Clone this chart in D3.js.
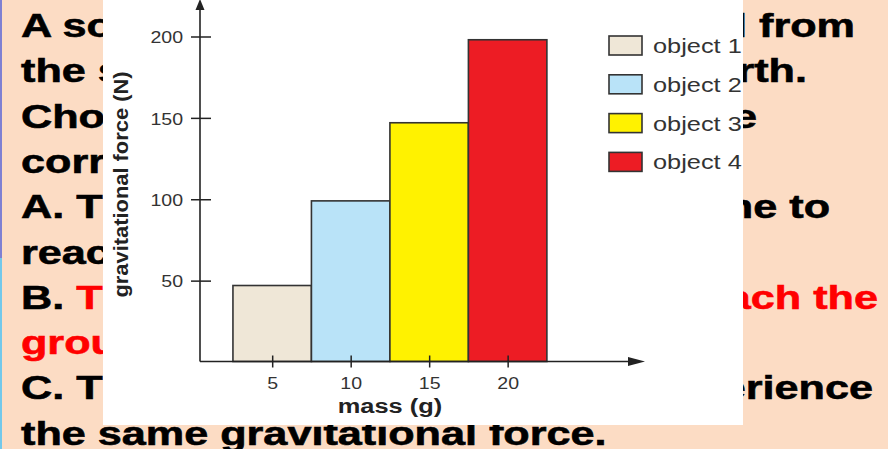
<!DOCTYPE html>
<html>
<head>
<meta charset="utf-8">
<script src="https://cdn.jsdelivr.net/npm/d3@7"></script>
<style>
  html, body { margin: 0; padding: 0; background: #fcdcc4; }
  svg { display: block; }
</style>
</head>
<body>
<svg id="slide" width="888" height="449"></svg>
<script>
// ---- chart data ----
const objects = ["object 1", "object 2", "object 3", "object 4"];
const masses = [5, 10, 15, 20];            // g
const forces = [47, 99, 147, 198];         // N
const colors = ["#efe7d7", "#b9e3f8", "#fff200", "#ed1c24"];
const yTicks = [50, 100, 150, 200];
const xTicks = [5, 10, 15, 20];
const xTitle = "mass (g)";
const yTitle = "gravitational force (N)";

// ---- slide question text (left column / right column pieces) ----
const leftLines = [
  [["A solid", "#000"]],
  [["the same", "#000"]],
  [["Choose", "#000"]],
  [["correct", "#000"]],
  [["A. They", "#000"]],
  [["reach", "#000"]],
  [["B. ", "#000"], ["The", "#ff0000"]],
  [["ground", "#ff0000"]],
  [["C. They", "#000"]],
  [["the same gravitational force.", "#000"]]
];
const rightLines = [
  ["fall from", "#000"],
  ["Earth.", "#000"],
  ["the", "#000"],
  ["", "#000"],
  ["time to", "#000"],
  ["", "#000"],
  ["reach the", "#ff0000"],
  ["", "#000"],
  ["experience", "#000"],
  ["", "#000"]
];
const rightEnds = [855, 807, 757, 0, 830, 0, 878, 0, 873, 0];

const svg = d3.select("#slide");
const W = 888, H = 449;

// slide background and edge strip
svg.append("rect").attr("width", W).attr("height", H).attr("fill", "#fcdcc4");
svg.append("rect").attr("x", 0).attr("y", 0).attr("width", 2).attr("height", 258).attr("fill", "#7f80d2");
svg.append("rect").attr("x", 0).attr("y", 258).attr("width", 2).attr("height", H - 258).attr("fill", "#73c8ea");

// question text
const textG = svg.append("g")
  .attr("font-family", "'Liberation Sans', Arial, sans-serif")
  .attr("font-weight", "bold")
  .attr("font-size", 34);
const base0 = 37, lineGap = 45.3, stretch = 1.27;

leftLines.forEach((parts, i) => {
  const t = textG.append("text")
    .attr("transform", `translate(21,${base0 + i * lineGap}) scale(${stretch},1)`);
  parts.forEach(([s, c]) => {
    t.append("tspan").attr("fill", c).attr("stroke", c).attr("stroke-width", 0.6).text(s);
  });
});
rightLines.forEach(([s, c], i) => {
  if (!s) return;
  textG.append("text")
    .attr("transform", `translate(${rightEnds[i]},${base0 + i * lineGap}) scale(${stretch},1)`)
    .attr("text-anchor", "end")
    .attr("fill", c).attr("stroke", c).attr("stroke-width", 0.6)
    .text(s);
});

// white chart panel
const panel = { x: 103, y: 0, w: 640, h: 425 };
svg.append("rect")
  .attr("x", panel.x).attr("y", panel.y).attr("width", panel.w).attr("height", panel.h)
  .attr("fill", "#ffffff");
svg.append("clipPath").attr("id", "panelClip")
  .append("rect").attr("x", panel.x).attr("y", panel.y).attr("width", panel.w).attr("height", panel.h);

const chart = svg.append("g").attr("clip-path", "url(#panelClip)")
  .attr("font-family", "'Liberation Sans', Arial, sans-serif");

// scales
const x = d3.scaleLinear().domain([0, 28.75]).range([193.7, 645]);
const y = d3.scaleLinear().domain([0, 200]).range([362, 36.5]);
const axisX = 200, axisY = 361.5;
const barW = x(5) - x(0);
const ink = "#222";

// bars
chart.selectAll("rect.bar")
  .data(masses.map((m, i) => ({ m, f: forces[i], c: colors[i] })))
  .join("rect")
  .attr("class", "bar")
  .attr("x", d => x(d.m) - barW / 2)
  .attr("width", barW)
  .attr("y", d => y(d.f))
  .attr("height", d => axisY - y(d.f))
  .attr("fill", d => d.c)
  .attr("stroke", "#333")
  .attr("stroke-width", 1.6);

// y axis
const yAxis = chart.append("g").attr("transform", `translate(${axisX},0)`)
  .call(d3.axisLeft(y).tickValues(yTicks).tickSizeOuter(0));
yAxis.select(".domain").remove();
yAxis.selectAll(".tick line").attr("x1", -9).attr("x2", 11).attr("stroke", ink).attr("stroke-width", 1.5);
yAxis.selectAll(".tick text")
  .attr("x", null).attr("dy", "0.36em")
  .attr("transform", `translate(-17,0) scale(1.15,1)`)
  .attr("font-size", 17).attr("fill", "#333").attr("font-family", "'Liberation Sans', Arial, sans-serif");

// x axis
const xAxis = chart.append("g").attr("transform", `translate(0,${axisY})`)
  .call(d3.axisBottom(x).tickValues(xTicks).tickSizeOuter(0));
xAxis.select(".domain").remove();
xAxis.selectAll(".tick line").attr("y1", -6).attr("y2", 6).attr("stroke", ink).attr("stroke-width", 1.5);
xAxis.selectAll(".tick text")
  .attr("y", null).attr("dy", null)
  .attr("transform", `translate(0,27) scale(1.15,1)`)
  .attr("font-size", 17).attr("fill", "#333").attr("font-family", "'Liberation Sans', Arial, sans-serif");

// axis lines with arrow heads
chart.append("line").attr("x1", axisX).attr("x2", axisX).attr("y1", axisY).attr("y2", 6)
  .attr("stroke", ink).attr("stroke-width", 1.6);
chart.append("path").attr("d", `M${axisX},-1 L${axisX - 4.5},10 L${axisX + 4.5},10 Z`).attr("fill", ink);
const xEnd = x(28.75);
chart.append("line").attr("x1", axisX).attr("x2", xEnd - 8).attr("y1", axisY).attr("y2", axisY)
  .attr("stroke", ink).attr("stroke-width", 1.6);
chart.append("path").attr("d", `M${xEnd},${axisY} L${xEnd - 17},${axisY - 4.5} L${xEnd - 17},${axisY + 4.5} Z`).attr("fill", ink);

// axis titles
chart.append("text")
  .attr("transform", `translate(${(x(2.5) + x(22.5)) / 2},413) scale(1.24,1)`)
  .attr("text-anchor", "middle").attr("font-weight", "bold").attr("font-size", 20.5).attr("fill", "#222")
  .text(xTitle);
chart.append("text")
  .attr("transform", `translate(128,184.5) rotate(-90)`)
  .attr("text-anchor", "middle").attr("font-weight", "bold").attr("font-size", 20).attr("fill", "#222")
  .attr("textLength", 226).attr("lengthAdjust", "spacingAndGlyphs")
  .text(yTitle);

// legend
const legend = chart.append("g");
objects.forEach((name, i) => {
  const ly = 36 + i * 38.8;
  legend.append("rect").attr("x", 609).attr("y", ly).attr("width", 33).attr("height", 19)
    .attr("fill", colors[i]).attr("stroke", "#333").attr("stroke-width", 1.6);
  legend.append("text")
    .attr("transform", `translate(653,${ly + 17}) scale(1.3,1)`)
    .attr("font-size", 19.5).attr("fill", "#333")
    .text(name);
});
</script>
</body>
</html>
